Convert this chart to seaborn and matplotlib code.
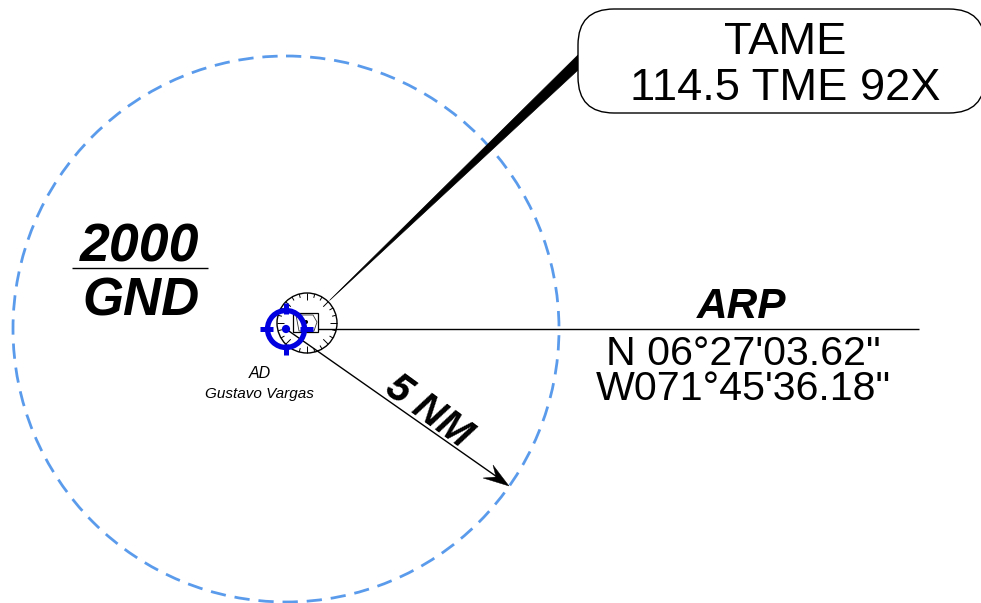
import numpy as np
import pandas as pd
import matplotlib
matplotlib.use('Agg')
import matplotlib.pyplot as plt
import seaborn as sns
from matplotlib.patches import Circle, FancyBboxPatch, Polygon, Rectangle

sns.set_style('white')
plt.rcParams['font.family'] = ['Liberation Sans', 'DejaVu Sans']
plt.rcParams['text.color'] = 'black'

# everything is in image pixels, y going down
BLACK = '#000000'
DASH_BLUE = '#5b9bec'
TMA_BLUE = '#0000e0'

ctr_center = [286, 329]
ctr_radius = 273
rose_center = [307, 323]
rose_radius = 30
ref_radius = 18.5

arp_line_x = [318, 919]
arp_line_y = [329, 329]
radius_line_x = [286, 500]
radius_line_y = [329, 479]
arrow_head = [[509, 486], [493, 465], [496, 477], [483, 478]]
leader_thin_x = [307, 330]
leader_thin_y = [323, 300]
leader_poly = [[330, 300], [578, 55], [578, 70]]
ticks_x = [[260, 273], [300, 313], [286, 286], [286, 286]]
ticks_y = [[329, 329], [329, 329], [303, 314], [344, 355]]
rule_x = [72, 208]
rule_y = [268, 268]

callout_lines = ['TAME', '114.5 TME 92X']
arp_lines = ['N 06°27\'03.62"', 'W071°45\'36.18"']

fig = plt.figure(figsize=(9.81, 6.03), dpi=100)
ax = fig.add_axes([0, 0, 1, 1])
ax.set_xlim(0, 981)
ax.set_ylim(603, 0)
ax.axis('off')


def draw_line(xs, ys, lw, color=BLACK, z=3):
    sns.lineplot(data=pd.DataFrame({'x': xs, 'y': ys}), x='x', y='y', ax=ax, color=color,
                 lw=lw, sort=False, estimator=None, zorder=z, solid_capstyle='butt')


# CTR circle
ax.add_patch(Circle(ctr_center, ctr_radius, fill=False, ec=DASH_BLUE, lw=2.0,
                    ls=(0, (5.5, 3.2)), zorder=2))

# leader to the callout
draw_line(leader_thin_x, leader_thin_y, 0.4, color='#777777')
ax.add_patch(Polygon(leader_poly, closed=True, fc=BLACK, ec=BLACK, lw=0.5, zorder=3))

# callout box
ax.add_patch(FancyBboxPatch((578, 9), 407, 104, boxstyle='round,pad=0,rounding_size=36',
                            fc='white', ec=BLACK, lw=1.0, zorder=5))
ax.text(785, 43, callout_lines[0], ha='center', va='center', fontsize=32.6, zorder=6)
ax.text(785, 89, callout_lines[1], ha='center', va='center', fontsize=32.6, zorder=6)

# compass rose
ax.add_patch(Circle(rose_center, rose_radius, fc='white', ec=BLACK, lw=1.0, zorder=3))
for a in np.arange(0, 360, 15):
    r0 = rose_radius - (7 if a % 45 == 0 else 4)
    t = np.deg2rad(a)
    draw_line([rose_center[0] + r0 * np.cos(t), rose_center[0] + rose_radius * np.cos(t)],
              [rose_center[1] + r0 * np.sin(t), rose_center[1] + rose_radius * np.sin(t)], 0.7, z=3.1)
ax.add_patch(Rectangle((293, 313), 25, 19, fill=False, ec=BLACK, lw=0.9, zorder=3.2))
ax.add_patch(Polygon([[296, 315], [313, 315], [317, 322], [314, 331], [299, 331]], closed=True,
                     fill=False, ec='#333333', lw=0.6, zorder=3.2))
ax.add_patch(Circle((306, 322), 1.3, fc=BLACK, ec=BLACK, zorder=3.3))

# lines from the aerodrome
draw_line(arp_line_x, arp_line_y, 1.0)
draw_line(radius_line_x, radius_line_y, 1.0, z=3.4)
ax.add_patch(Polygon(arrow_head, closed=True, fc=BLACK, ec=BLACK, lw=0.3, zorder=3.5))

# reference point symbol
ax.add_patch(Circle(ctr_center, ref_radius, fill=False, ec=TMA_BLUE, lw=3.8, zorder=6))
for tx, ty in zip(ticks_x, ticks_y):
    draw_line(tx, ty, 3.6, color=TMA_BLUE, z=5.5)
ax.add_patch(Circle(ctr_center, 3.4, fc=TMA_BLUE, ec=TMA_BLUE, zorder=6))

# labels
draw_line(rule_x, rule_y, 1.0)
ax.text(140, 248, '2000', ha='center', va='center', fontsize=38.6, style='italic', weight='bold')
ax.text(141, 301, 'GND', ha='center', va='center', fontsize=38, style='italic', weight='bold')
ax.text(742, 307, 'ARP', ha='center', va='center', fontsize=30.5, style='italic', weight='bold')
ax.text(743, 354, arp_lines[0], ha='center', va='center', fontsize=29.6)
ax.text(743, 389, arp_lines[1], ha='center', va='center', fontsize=29.6)
ax.text(260, 373, 'AD', ha='center', va='center', fontsize=11.5, style='italic')
ax.text(259, 394, 'Gustavo Vargas', ha='center', va='center', fontsize=11, style='italic')
ax.text(428, 411, '5 NM', ha='center', va='center', fontsize=29, style='italic', weight='bold',
        rotation=-36, rotation_mode='anchor')

fig.savefig('out.png', dpi=100)
